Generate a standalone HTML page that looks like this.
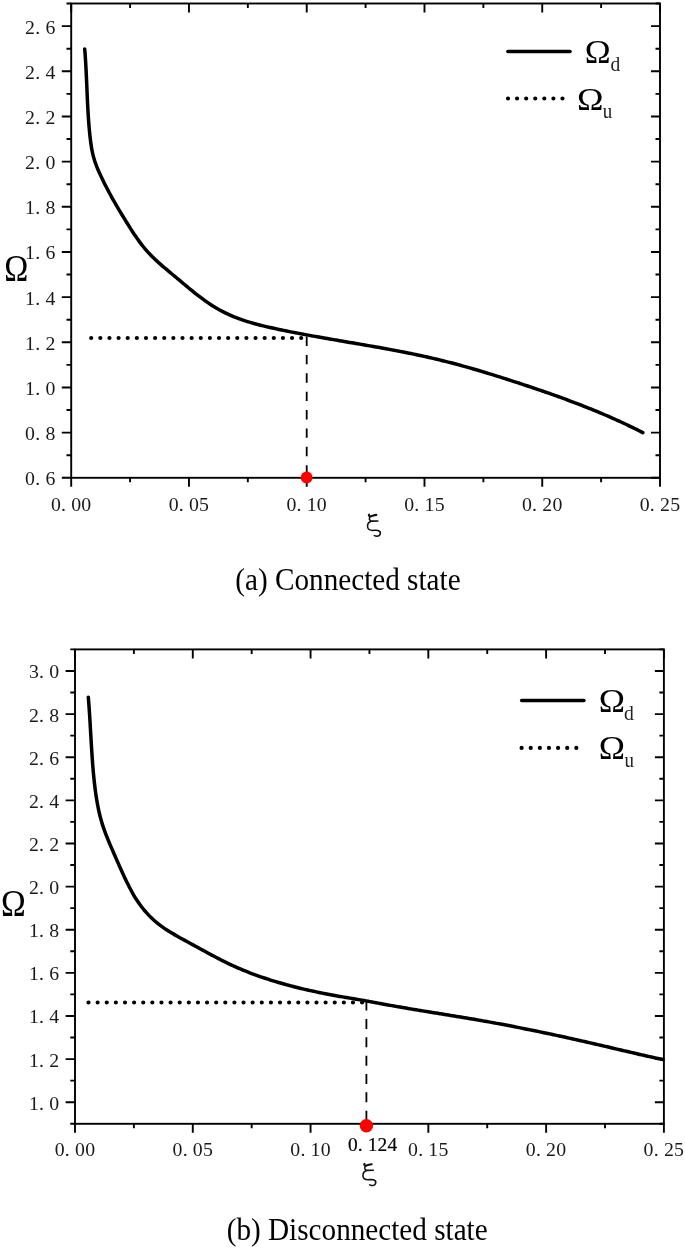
<!DOCTYPE html><html><head><meta charset="utf-8"><style>html,body{margin:0;padding:0;background:#fff;overflow:hidden;width:685px;height:1248px;}svg{display:block;will-change:transform;}text{font-family:"Liberation Serif", serif;fill:#1a1a1a;}</style></head><body>
<svg width="685" height="1248" viewBox="0 0 685 1248">
<rect x="71.20" y="3.50" width="588.80" height="474.30" fill="none" stroke="#000" stroke-width="1.90"/>
<path d="M61.80,477.77H71.20M651.00,477.77H660.00M61.80,432.61H71.20M651.00,432.61H660.00M61.80,387.44H71.20M651.00,387.44H660.00M61.80,342.28H71.20M651.00,342.28H660.00M61.80,297.11H71.20M651.00,297.11H660.00M61.80,251.95H71.20M651.00,251.95H660.00M61.80,206.79H71.20M651.00,206.79H660.00M61.80,161.62H71.20M651.00,161.62H660.00M61.80,116.46H71.20M651.00,116.46H660.00M61.80,71.29H71.20M651.00,71.29H660.00M61.80,26.13H71.20M651.00,26.13H660.00M66.50,455.19H71.20M655.50,455.19H660.00M66.50,410.02H71.20M655.50,410.02H660.00M66.50,364.86H71.20M655.50,364.86H660.00M66.50,319.70H71.20M655.50,319.70H660.00M66.50,274.53H71.20M655.50,274.53H660.00M66.50,229.37H71.20M655.50,229.37H660.00M66.50,184.20H71.20M655.50,184.20H660.00M66.50,139.04H71.20M655.50,139.04H660.00M66.50,93.88H71.20M655.50,93.88H660.00M66.50,48.71H71.20M655.50,48.71H660.00M66.50,3.55H71.20M655.50,3.55H660.00M71.20,477.80V486.80M71.20,3.50V12.50M188.96,477.80V486.80M188.96,3.50V12.50M306.72,477.80V486.80M306.72,3.50V12.50M424.48,477.80V486.80M424.48,3.50V12.50M542.24,477.80V486.80M542.24,3.50V12.50M660.00,477.80V486.80M660.00,3.50V12.50M130.08,477.80V482.30M130.08,3.50V8.00M247.84,477.80V482.30M247.84,3.50V8.00M365.60,477.80V482.30M365.60,3.50V8.00M483.36,477.80V482.30M483.36,3.50V8.00M601.12,477.80V482.30M601.12,3.50V8.00" stroke="#000" stroke-width="1.90" fill="none"/>
<text x="25.10 35.25 45.40" y="485.17" font-size="19.80" >0.6</text>
<text x="25.10 35.25 45.40" y="440.01" font-size="19.80" >0.8</text>
<text x="25.10 35.25 45.40" y="394.84" font-size="19.80" >1.0</text>
<text x="25.10 35.25 45.40" y="349.68" font-size="19.80" >1.2</text>
<text x="25.10 35.25 45.40" y="304.51" font-size="19.80" >1.4</text>
<text x="25.10 35.25 45.40" y="259.35" font-size="19.80" >1.6</text>
<text x="25.10 35.25 45.40" y="214.19" font-size="19.80" >1.8</text>
<text x="25.10 35.25 45.40" y="169.02" font-size="19.80" >2.0</text>
<text x="25.10 35.25 45.40" y="123.86" font-size="19.80" >2.2</text>
<text x="25.10 35.25 45.40" y="78.69" font-size="19.80" >2.4</text>
<text x="25.10 35.25 45.40" y="33.53" font-size="19.80" >2.6</text>
<text x="50.90 61.05 71.20 81.35" y="510.60" font-size="19.80" >0.00</text>
<text x="168.66 178.81 188.96 199.11" y="510.60" font-size="19.80" >0.05</text>
<text x="286.42 296.57 306.72 316.87" y="510.60" font-size="19.80" >0.10</text>
<text x="404.18 414.33 424.48 434.63" y="510.60" font-size="19.80" >0.15</text>
<text x="521.94 532.09 542.24 552.39" y="510.60" font-size="19.80" >0.20</text>
<text x="639.70 649.85 660.00 670.15" y="510.60" font-size="19.80" >0.25</text>
<path d="M84.70,48.90 C84.76,49.63 84.94,51.82 85.05,53.29 C85.16,54.75 85.26,56.23 85.36,57.70 C85.46,59.18 85.55,60.67 85.64,62.15 C85.73,63.64 85.82,65.14 85.90,66.63 C85.98,68.13 86.06,69.63 86.13,71.13 C86.21,72.63 86.28,74.14 86.35,75.65 C86.42,77.15 86.49,78.66 86.55,80.17 C86.62,81.68 86.69,83.20 86.75,84.71 C86.82,86.22 86.88,87.74 86.94,89.25 C87.01,90.76 87.07,92.28 87.14,93.79 C87.21,95.30 87.27,96.81 87.34,98.32 C87.41,99.83 87.48,101.34 87.55,102.84 C87.62,104.34 87.70,105.85 87.78,107.35 C87.86,108.84 87.94,110.34 88.03,111.83 C88.11,113.32 88.20,114.81 88.30,116.29 C88.39,117.77 88.49,119.25 88.60,120.72 C88.71,122.19 88.82,123.66 88.94,125.12 C89.05,126.58 89.18,128.03 89.31,129.48 C89.44,130.92 89.58,132.36 89.73,133.79 C89.88,135.22 90.03,136.64 90.20,138.06 C90.36,139.47 90.53,140.88 90.72,142.27 C90.91,143.66 91.10,145.04 91.32,146.40 C91.54,147.76 91.77,149.11 92.02,150.43 C92.28,151.75 92.55,153.05 92.85,154.33 C93.16,155.61 93.48,156.86 93.83,158.08 C94.18,159.31 94.56,160.51 94.96,161.69 C95.35,162.87 95.77,164.03 96.20,165.18 C96.63,166.33 97.09,167.45 97.55,168.57 C98.01,169.68 98.49,170.78 98.97,171.88 C99.45,172.97 99.95,174.05 100.45,175.13 C100.94,176.21 101.45,177.28 101.96,178.35 C102.47,179.42 102.99,180.48 103.51,181.54 C104.03,182.60 104.55,183.65 105.08,184.69 C105.61,185.74 106.15,186.78 106.69,187.82 C107.23,188.86 107.77,189.89 108.32,190.92 C108.87,191.95 109.42,192.98 109.98,194.00 C110.53,195.02 111.09,196.04 111.66,197.05 C112.22,198.07 112.79,199.08 113.36,200.08 C113.93,201.09 114.50,202.09 115.08,203.09 C115.66,204.10 116.24,205.09 116.82,206.09 C117.40,207.08 117.99,208.08 118.57,209.07 C119.16,210.06 119.75,211.04 120.34,212.03 C120.93,213.02 121.53,214.00 122.12,214.98 C122.72,215.96 123.32,216.94 123.92,217.92 C124.51,218.90 125.12,219.88 125.72,220.85 C126.32,221.83 126.92,222.80 127.53,223.78 C128.13,224.75 128.74,225.72 129.35,226.69 C129.96,227.66 130.57,228.62 131.18,229.58 C131.80,230.55 132.42,231.50 133.04,232.46 C133.67,233.41 134.30,234.36 134.94,235.30 C135.57,236.24 136.21,237.17 136.86,238.10 C137.51,239.03 138.17,239.95 138.83,240.86 C139.50,241.78 140.17,242.68 140.85,243.58 C141.54,244.47 142.23,245.36 142.93,246.23 C143.63,247.11 144.34,247.97 145.07,248.83 C145.79,249.68 146.53,250.52 147.28,251.35 C148.02,252.18 148.78,253.00 149.55,253.81 C150.32,254.62 151.10,255.42 151.88,256.21 C152.67,257.00 153.47,257.78 154.27,258.56 C155.08,259.33 155.89,260.09 156.71,260.85 C157.53,261.61 158.35,262.36 159.18,263.11 C160.02,263.85 160.85,264.59 161.70,265.33 C162.54,266.07 163.38,266.80 164.23,267.52 C165.08,268.25 165.94,268.97 166.80,269.70 C167.65,270.42 168.51,271.13 169.37,271.85 C170.23,272.57 171.09,273.29 171.95,274.00 C172.82,274.72 173.68,275.43 174.54,276.15 C175.40,276.86 176.26,277.58 177.12,278.30 C177.98,279.02 178.84,279.74 179.70,280.46 C180.55,281.18 181.41,281.90 182.27,282.62 C183.12,283.34 183.98,284.06 184.84,284.78 C185.70,285.50 186.56,286.21 187.42,286.93 C188.28,287.64 189.15,288.36 190.01,289.07 C190.88,289.78 191.75,290.49 192.62,291.19 C193.50,291.90 194.37,292.60 195.25,293.30 C196.13,293.99 197.02,294.69 197.91,295.37 C198.80,296.06 199.69,296.74 200.60,297.42 C201.50,298.10 202.40,298.77 203.32,299.43 C204.23,300.10 205.15,300.75 206.08,301.40 C207.00,302.05 207.94,302.70 208.88,303.33 C209.83,303.97 210.78,304.59 211.74,305.21 C212.70,305.83 213.67,306.44 214.64,307.03 C215.62,307.63 216.61,308.22 217.61,308.80 C218.61,309.38 219.62,309.95 220.64,310.50 C221.66,311.06 222.69,311.61 223.74,312.14 C224.78,312.67 225.84,313.19 226.91,313.70 C227.98,314.21 229.06,314.70 230.16,315.19 C231.25,315.67 232.36,316.14 233.48,316.60 C234.60,317.05 235.73,317.50 236.87,317.93 C238.02,318.37 239.17,318.79 240.34,319.20 C241.50,319.61 242.68,320.02 243.86,320.41 C245.05,320.80 246.24,321.18 247.45,321.56 C248.65,321.93 249.87,322.29 251.09,322.65 C252.31,323.01 253.54,323.35 254.77,323.70 C256.01,324.04 257.26,324.37 258.51,324.70 C259.76,325.02 261.02,325.34 262.28,325.65 C263.55,325.97 264.82,326.28 266.09,326.58 C267.37,326.88 268.65,327.18 269.93,327.47 C271.22,327.76 272.51,328.05 273.80,328.33 C275.09,328.62 276.39,328.90 277.69,329.18 C278.99,329.45 280.29,329.73 281.60,330.00 C282.91,330.27 284.21,330.54 285.52,330.81 C286.84,331.07 288.15,331.34 289.46,331.60 C290.78,331.86 292.10,332.12 293.42,332.38 C294.74,332.64 296.06,332.89 297.38,333.15 C298.71,333.40 300.03,333.65 301.36,333.90 C302.69,334.15 304.02,334.40 305.35,334.65 C306.68,334.89 308.01,335.14 309.35,335.38 C310.68,335.62 312.02,335.87 313.35,336.11 C314.69,336.35 316.03,336.59 317.37,336.82 C318.71,337.06 320.05,337.30 321.39,337.54 C322.73,337.77 324.07,338.01 325.42,338.24 C326.76,338.47 328.11,338.71 329.45,338.94 C330.80,339.17 332.14,339.40 333.49,339.64 C334.83,339.87 336.18,340.10 337.53,340.33 C338.88,340.56 340.22,340.79 341.57,341.02 C342.92,341.25 344.27,341.48 345.61,341.71 C346.96,341.94 348.31,342.17 349.66,342.40 C351.00,342.63 352.35,342.86 353.70,343.09 C355.05,343.32 356.39,343.55 357.74,343.78 C359.09,344.01 360.43,344.24 361.78,344.47 C363.12,344.71 364.47,344.94 365.81,345.17 C367.16,345.40 368.50,345.64 369.84,345.87 C371.19,346.11 372.53,346.34 373.87,346.58 C375.21,346.82 376.55,347.06 377.89,347.30 C379.23,347.53 380.56,347.77 381.90,348.02 C383.24,348.26 384.57,348.50 385.90,348.74 C387.24,348.99 388.57,349.23 389.90,349.48 C391.23,349.73 392.56,349.98 393.89,350.23 C395.21,350.48 396.54,350.73 397.86,350.98 C399.19,351.24 400.51,351.49 401.83,351.75 C403.15,352.01 404.47,352.27 405.78,352.53 C407.10,352.79 408.41,353.05 409.72,353.32 C411.03,353.59 412.34,353.86 413.65,354.13 C414.96,354.40 416.26,354.67 417.57,354.94 C418.87,355.22 420.17,355.50 421.46,355.78 C422.76,356.06 424.06,356.34 425.35,356.63 C426.64,356.91 427.93,357.20 429.21,357.49 C430.50,357.78 431.78,358.08 433.06,358.38 C434.34,358.67 435.62,358.97 436.90,359.28 C438.17,359.58 439.44,359.89 440.71,360.20 C441.98,360.51 443.24,360.82 444.50,361.14 C445.76,361.45 447.02,361.77 448.28,362.09 C449.54,362.41 450.79,362.74 452.04,363.06 C453.29,363.39 454.54,363.72 455.78,364.05 C457.03,364.39 458.27,364.72 459.51,365.06 C460.75,365.40 461.99,365.74 463.22,366.08 C464.46,366.42 465.69,366.76 466.92,367.11 C468.15,367.46 469.38,367.81 470.61,368.16 C471.83,368.51 473.06,368.86 474.28,369.22 C475.50,369.58 476.72,369.93 477.94,370.29 C479.16,370.65 480.37,371.01 481.59,371.38 C482.80,371.74 484.02,372.10 485.23,372.47 C486.44,372.84 487.65,373.21 488.85,373.58 C490.06,373.95 491.27,374.32 492.47,374.69 C493.68,375.06 494.88,375.44 496.08,375.81 C497.28,376.19 498.48,376.57 499.68,376.95 C500.88,377.32 502.08,377.70 503.28,378.09 C504.47,378.47 505.67,378.85 506.86,379.23 C508.06,379.61 509.25,380.00 510.44,380.38 C511.64,380.77 512.83,381.15 514.02,381.54 C515.21,381.93 516.40,382.32 517.59,382.70 C518.78,383.09 519.96,383.48 521.15,383.87 C522.34,384.26 523.52,384.65 524.71,385.05 C525.89,385.44 527.08,385.83 528.26,386.23 C529.44,386.62 530.63,387.02 531.81,387.42 C532.99,387.81 534.17,388.21 535.34,388.61 C536.52,389.01 537.70,389.41 538.88,389.81 C540.05,390.21 541.23,390.62 542.40,391.02 C543.57,391.43 544.74,391.83 545.91,392.24 C547.08,392.65 548.25,393.05 549.42,393.47 C550.59,393.88 551.75,394.29 552.92,394.70 C554.08,395.11 555.25,395.53 556.41,395.94 C557.57,396.36 558.73,396.78 559.89,397.20 C561.04,397.62 562.20,398.04 563.36,398.46 C564.51,398.88 565.66,399.31 566.82,399.73 C567.97,400.16 569.12,400.59 570.26,401.02 C571.41,401.45 572.56,401.88 573.70,402.31 C574.85,402.74 575.99,403.18 577.13,403.62 C578.27,404.05 579.41,404.49 580.55,404.93 C581.68,405.38 582.82,405.82 583.95,406.26 C585.08,406.71 586.21,407.16 587.34,407.60 C588.47,408.05 589.59,408.51 590.72,408.96 C591.84,409.41 592.96,409.87 594.08,410.33 C595.20,410.78 596.32,411.24 597.44,411.71 C598.55,412.17 599.67,412.63 600.78,413.10 C601.89,413.57 603.00,414.04 604.10,414.51 C605.21,414.98 606.31,415.45 607.41,415.93 C608.51,416.41 609.61,416.88 610.71,417.37 C611.80,417.85 612.90,418.33 613.99,418.82 C615.08,419.30 616.17,419.79 617.25,420.28 C618.34,420.78 619.42,421.27 620.50,421.77 C621.59,422.26 622.66,422.76 623.74,423.27 C624.81,423.77 625.89,424.27 626.96,424.78 C628.03,425.29 629.09,425.80 630.16,426.31 C631.22,426.83 632.28,427.34 633.34,427.86 C634.40,428.38 635.45,428.90 636.51,429.43 C637.56,429.95 638.61,430.48 639.66,431.01 C640.70,431.54 642.28,432.34 642.80,432.60" fill="none" stroke="#000" stroke-width="3.5" stroke-linecap="round" stroke-linejoin="round"/>
<path d="M91.2,338H302" fill="none" stroke="#000" stroke-width="4.2" stroke-linecap="round" stroke-dasharray="0 9.13"/>
<path d="M306.7,336.6V472" fill="none" stroke="#000" stroke-width="1.8" stroke-dasharray="9.4 8.97"/>
<circle cx="306.65" cy="477.5" r="5.9" fill="#f00"/>
<path d="M507.85,51.5H570.05" stroke="#000" stroke-width="3.5" stroke-linecap="round"/>
<path d="M508,98.5H563" stroke="#000" stroke-width="4.2" stroke-linecap="round" stroke-dasharray="0 9.08"/>
<rect x="75.00" y="649.40" width="588.90" height="474.40" fill="none" stroke="#000" stroke-width="1.90"/>
<path d="M65.60,1102.24H75.00M654.90,1102.24H663.90M65.60,1059.11H75.00M654.90,1059.11H663.90M65.60,1015.98H75.00M654.90,1015.98H663.90M65.60,972.85H75.00M654.90,972.85H663.90M65.60,929.72H75.00M654.90,929.72H663.90M65.60,886.60H75.00M654.90,886.60H663.90M65.60,843.47H75.00M654.90,843.47H663.90M65.60,800.34H75.00M654.90,800.34H663.90M65.60,757.21H75.00M654.90,757.21H663.90M65.60,714.08H75.00M654.90,714.08H663.90M65.60,670.96H75.00M654.90,670.96H663.90M70.30,1123.80H75.00M659.40,1123.80H663.90M70.30,1080.67H75.00M659.40,1080.67H663.90M70.30,1037.54H75.00M659.40,1037.54H663.90M70.30,994.42H75.00M659.40,994.42H663.90M70.30,951.29H75.00M659.40,951.29H663.90M70.30,908.16H75.00M659.40,908.16H663.90M70.30,865.03H75.00M659.40,865.03H663.90M70.30,821.90H75.00M659.40,821.90H663.90M70.30,778.78H75.00M659.40,778.78H663.90M70.30,735.65H75.00M659.40,735.65H663.90M70.30,692.52H75.00M659.40,692.52H663.90M70.30,649.39H75.00M659.40,649.39H663.90M75.00,1123.80V1132.80M75.00,649.40V658.40M192.78,1123.80V1132.80M192.78,649.40V658.40M310.56,1123.80V1132.80M310.56,649.40V658.40M428.34,1123.80V1132.80M428.34,649.40V658.40M546.12,1123.80V1132.80M546.12,649.40V658.40M663.90,1123.80V1132.80M663.90,649.40V658.40M133.89,1123.80V1128.30M133.89,649.40V653.90M251.67,1123.80V1128.30M251.67,649.40V653.90M369.45,1123.80V1128.30M369.45,649.40V653.90M487.23,1123.80V1128.30M487.23,649.40V653.90M605.01,1123.80V1128.30M605.01,649.40V653.90" stroke="#000" stroke-width="1.90" fill="none"/>
<text x="28.90 39.05 49.20" y="1109.74" font-size="19.80" >1.0</text>
<text x="28.90 39.05 49.20" y="1066.61" font-size="19.80" >1.2</text>
<text x="28.90 39.05 49.20" y="1023.48" font-size="19.80" >1.4</text>
<text x="28.90 39.05 49.20" y="980.35" font-size="19.80" >1.6</text>
<text x="28.90 39.05 49.20" y="937.22" font-size="19.80" >1.8</text>
<text x="28.90 39.05 49.20" y="894.10" font-size="19.80" >2.0</text>
<text x="28.90 39.05 49.20" y="850.97" font-size="19.80" >2.2</text>
<text x="28.90 39.05 49.20" y="807.84" font-size="19.80" >2.4</text>
<text x="28.90 39.05 49.20" y="764.71" font-size="19.80" >2.6</text>
<text x="28.90 39.05 49.20" y="721.58" font-size="19.80" >2.8</text>
<text x="28.90 39.05 49.20" y="678.46" font-size="19.80" >3.0</text>
<text x="54.70 64.85 75.00 85.15" y="1156.30" font-size="19.80" >0.00</text>
<text x="172.48 182.63 192.78 202.93" y="1156.30" font-size="19.80" >0.05</text>
<text x="290.26 300.41 310.56 320.71" y="1156.30" font-size="19.80" >0.10</text>
<text x="408.04 418.19 428.34 438.49" y="1156.30" font-size="19.80" >0.15</text>
<text x="525.82 535.97 546.12 556.27" y="1156.30" font-size="19.80" >0.20</text>
<text x="643.60 653.75 663.90 674.05" y="1156.30" font-size="19.80" >0.25</text>
<path d="M88.30,697.20 C88.36,697.93 88.54,700.10 88.65,701.55 C88.77,703.01 88.88,704.47 88.98,705.93 C89.09,707.40 89.19,708.86 89.29,710.33 C89.39,711.80 89.49,713.27 89.59,714.75 C89.68,716.22 89.77,717.70 89.87,719.18 C89.96,720.66 90.04,722.14 90.13,723.62 C90.22,725.10 90.31,726.58 90.39,728.07 C90.48,729.55 90.56,731.03 90.65,732.52 C90.74,734.00 90.82,735.49 90.91,736.97 C90.99,738.45 91.08,739.94 91.17,741.42 C91.25,742.90 91.34,744.38 91.43,745.86 C91.52,747.34 91.61,748.82 91.71,750.30 C91.80,751.77 91.90,753.25 91.99,754.72 C92.09,756.19 92.19,757.66 92.30,759.12 C92.40,760.59 92.51,762.05 92.62,763.50 C92.74,764.96 92.85,766.42 92.97,767.87 C93.09,769.32 93.22,770.76 93.34,772.20 C93.47,773.64 93.61,775.08 93.75,776.51 C93.89,777.93 94.03,779.36 94.19,780.78 C94.34,782.19 94.49,783.61 94.66,785.01 C94.82,786.42 94.99,787.82 95.17,789.21 C95.35,790.60 95.54,791.98 95.73,793.36 C95.92,794.73 96.13,796.10 96.34,797.46 C96.55,798.82 96.77,800.17 97.00,801.51 C97.23,802.85 97.47,804.18 97.72,805.50 C97.97,806.81 98.23,808.12 98.50,809.42 C98.78,810.71 99.06,812.00 99.36,813.27 C99.66,814.54 99.97,815.80 100.29,817.05 C100.62,818.29 100.95,819.52 101.31,820.74 C101.66,821.96 102.02,823.16 102.40,824.36 C102.78,825.55 103.16,826.73 103.56,827.90 C103.96,829.07 104.37,830.23 104.79,831.38 C105.21,832.53 105.64,833.67 106.07,834.81 C106.51,835.94 106.95,837.07 107.40,838.19 C107.85,839.31 108.31,840.42 108.77,841.53 C109.23,842.64 109.69,843.74 110.16,844.84 C110.63,845.94 111.11,847.04 111.58,848.13 C112.06,849.23 112.54,850.32 113.01,851.41 C113.49,852.50 113.97,853.59 114.45,854.68 C114.93,855.77 115.41,856.86 115.89,857.96 C116.37,859.05 116.84,860.14 117.32,861.23 C117.80,862.32 118.28,863.41 118.76,864.50 C119.24,865.59 119.72,866.67 120.21,867.76 C120.69,868.85 121.18,869.93 121.67,871.01 C122.15,872.09 122.64,873.17 123.14,874.24 C123.63,875.32 124.13,876.39 124.63,877.46 C125.14,878.53 125.64,879.59 126.15,880.65 C126.66,881.71 127.18,882.76 127.70,883.81 C128.22,884.86 128.74,885.91 129.27,886.94 C129.81,887.98 130.34,889.01 130.89,890.04 C131.44,891.06 131.99,892.07 132.56,893.08 C133.12,894.08 133.70,895.08 134.28,896.06 C134.87,897.04 135.47,898.01 136.08,898.97 C136.69,899.93 137.32,900.88 137.95,901.81 C138.59,902.74 139.24,903.66 139.90,904.57 C140.56,905.48 141.23,906.38 141.92,907.26 C142.61,908.14 143.31,909.01 144.02,909.87 C144.73,910.73 145.46,911.57 146.19,912.40 C146.93,913.23 147.68,914.05 148.45,914.85 C149.22,915.66 149.99,916.45 150.79,917.23 C151.58,918.00 152.38,918.77 153.20,919.52 C154.02,920.27 154.86,921.00 155.70,921.73 C156.55,922.45 157.41,923.16 158.29,923.85 C159.16,924.55 160.05,925.23 160.95,925.89 C161.85,926.56 162.77,927.22 163.70,927.86 C164.62,928.50 165.56,929.13 166.51,929.75 C167.46,930.37 168.42,930.98 169.38,931.59 C170.35,932.19 171.33,932.78 172.31,933.37 C173.29,933.96 174.28,934.54 175.28,935.11 C176.27,935.68 177.28,936.25 178.28,936.82 C179.29,937.38 180.30,937.94 181.31,938.50 C182.32,939.05 183.34,939.60 184.36,940.16 C185.37,940.71 186.39,941.26 187.41,941.81 C188.43,942.36 189.45,942.91 190.47,943.47 C191.48,944.02 192.50,944.57 193.51,945.13 C194.53,945.68 195.54,946.24 196.56,946.79 C197.57,947.35 198.59,947.90 199.60,948.46 C200.61,949.01 201.63,949.57 202.64,950.13 C203.66,950.68 204.67,951.23 205.69,951.79 C206.70,952.34 207.72,952.89 208.74,953.44 C209.76,953.99 210.78,954.54 211.80,955.09 C212.83,955.64 213.85,956.18 214.88,956.72 C215.91,957.26 216.94,957.80 217.97,958.34 C219.00,958.87 220.04,959.41 221.08,959.94 C222.12,960.46 223.17,960.99 224.22,961.51 C225.26,962.03 226.32,962.55 227.37,963.06 C228.43,963.57 229.49,964.08 230.56,964.58 C231.63,965.09 232.70,965.58 233.78,966.08 C234.85,966.57 235.94,967.05 237.03,967.53 C238.12,968.01 239.21,968.49 240.31,968.96 C241.41,969.43 242.52,969.89 243.63,970.35 C244.74,970.80 245.86,971.26 246.98,971.70 C248.11,972.15 249.24,972.59 250.37,973.03 C251.50,973.46 252.64,973.89 253.79,974.32 C254.93,974.74 256.08,975.16 257.24,975.58 C258.39,975.99 259.55,976.40 260.72,976.80 C261.88,977.21 263.05,977.61 264.23,978.00 C265.40,978.40 266.58,978.79 267.77,979.17 C268.95,979.56 270.14,979.93 271.34,980.31 C272.53,980.68 273.73,981.05 274.94,981.42 C276.14,981.78 277.35,982.14 278.56,982.50 C279.78,982.86 280.99,983.21 282.22,983.55 C283.44,983.90 284.67,984.24 285.90,984.58 C287.13,984.92 288.37,985.25 289.61,985.58 C290.85,985.91 292.09,986.24 293.34,986.56 C294.59,986.88 295.84,987.19 297.10,987.51 C298.36,987.82 299.62,988.13 300.88,988.43 C302.15,988.73 303.42,989.03 304.69,989.33 C305.97,989.63 307.24,989.92 308.52,990.21 C309.81,990.49 311.09,990.78 312.38,991.06 C313.67,991.34 314.96,991.62 316.26,991.89 C317.55,992.16 318.85,992.43 320.16,992.70 C321.46,992.96 322.77,993.23 324.08,993.49 C325.39,993.74 326.70,994.00 328.02,994.25 C329.34,994.50 330.66,994.75 331.98,995.00 C333.31,995.24 334.64,995.49 335.97,995.72 C337.30,995.96 338.63,996.20 339.97,996.43 C341.30,996.66 342.65,996.89 343.99,997.12 C345.33,997.35 346.67,997.57 348.02,997.80 C349.36,998.03 350.71,998.25 352.05,998.47 C353.39,998.70 354.74,998.93 356.08,999.15 C357.42,999.38 358.76,999.61 360.10,999.85 C361.43,1000.08 362.76,1000.32 364.10,1000.56 C365.43,1000.79 366.75,1001.04 368.08,1001.28 C369.41,1001.52 370.73,1001.76 372.06,1002.01 C373.38,1002.25 374.71,1002.50 376.03,1002.74 C377.36,1002.99 378.68,1003.23 380.01,1003.48 C381.33,1003.72 382.66,1003.96 383.99,1004.20 C385.32,1004.45 386.65,1004.69 387.98,1004.93 C389.31,1005.16 390.64,1005.40 391.97,1005.64 C393.30,1005.88 394.64,1006.11 395.97,1006.35 C397.31,1006.58 398.64,1006.81 399.98,1007.05 C401.32,1007.28 402.66,1007.51 404.00,1007.74 C405.34,1007.97 406.68,1008.20 408.02,1008.43 C409.36,1008.65 410.70,1008.88 412.05,1009.11 C413.39,1009.33 414.74,1009.56 416.08,1009.78 C417.43,1010.00 418.77,1010.23 420.12,1010.45 C421.47,1010.67 422.82,1010.89 424.16,1011.11 C425.51,1011.34 426.86,1011.56 428.21,1011.78 C429.56,1012.00 430.91,1012.22 432.26,1012.44 C433.61,1012.66 434.96,1012.88 436.31,1013.10 C437.66,1013.31 439.01,1013.53 440.36,1013.75 C441.71,1013.97 443.06,1014.19 444.41,1014.41 C445.76,1014.63 447.11,1014.85 448.46,1015.07 C449.81,1015.29 451.16,1015.51 452.51,1015.73 C453.86,1015.95 455.20,1016.17 456.55,1016.40 C457.90,1016.62 459.25,1016.84 460.59,1017.06 C461.94,1017.29 463.29,1017.51 464.63,1017.73 C465.98,1017.96 467.32,1018.18 468.66,1018.41 C470.01,1018.64 471.35,1018.86 472.69,1019.09 C474.03,1019.32 475.37,1019.55 476.71,1019.78 C478.05,1020.01 479.38,1020.25 480.72,1020.48 C482.05,1020.71 483.39,1020.95 484.72,1021.19 C486.05,1021.42 487.39,1021.66 488.72,1021.90 C490.05,1022.14 491.38,1022.38 492.70,1022.62 C494.03,1022.86 495.36,1023.11 496.68,1023.35 C498.01,1023.59 499.33,1023.84 500.65,1024.09 C501.98,1024.33 503.30,1024.58 504.62,1024.83 C505.94,1025.08 507.26,1025.33 508.57,1025.58 C509.89,1025.84 511.21,1026.09 512.52,1026.34 C513.84,1026.60 515.15,1026.85 516.46,1027.11 C517.78,1027.37 519.09,1027.63 520.40,1027.89 C521.71,1028.14 523.02,1028.40 524.33,1028.67 C525.63,1028.93 526.94,1029.19 528.25,1029.45 C529.55,1029.72 530.86,1029.98 532.16,1030.25 C533.47,1030.51 534.77,1030.78 536.07,1031.05 C537.37,1031.32 538.67,1031.59 539.97,1031.86 C541.27,1032.13 542.57,1032.40 543.87,1032.67 C545.16,1032.94 546.46,1033.21 547.76,1033.49 C549.05,1033.76 550.35,1034.04 551.64,1034.31 C552.93,1034.59 554.23,1034.87 555.52,1035.14 C556.81,1035.42 558.10,1035.70 559.39,1035.98 C560.68,1036.26 561.97,1036.54 563.26,1036.82 C564.54,1037.10 565.83,1037.39 567.12,1037.67 C568.40,1037.95 569.69,1038.24 570.97,1038.52 C572.26,1038.81 573.54,1039.09 574.83,1039.38 C576.11,1039.66 577.39,1039.95 578.67,1040.24 C579.95,1040.53 581.23,1040.82 582.51,1041.11 C583.79,1041.40 585.07,1041.69 586.35,1041.98 C587.63,1042.27 588.91,1042.56 590.18,1042.85 C591.46,1043.15 592.74,1043.44 594.01,1043.73 C595.29,1044.03 596.56,1044.32 597.84,1044.62 C599.11,1044.91 600.38,1045.21 601.66,1045.51 C602.93,1045.80 604.20,1046.10 605.47,1046.40 C606.74,1046.70 608.02,1047.00 609.29,1047.29 C610.56,1047.59 611.83,1047.89 613.10,1048.19 C614.37,1048.49 615.64,1048.79 616.91,1049.09 C618.18,1049.39 619.45,1049.69 620.72,1049.99 C621.99,1050.29 623.26,1050.59 624.53,1050.89 C625.80,1051.19 627.07,1051.48 628.34,1051.78 C629.61,1052.08 630.88,1052.38 632.16,1052.67 C633.43,1052.97 634.71,1053.27 635.98,1053.56 C637.26,1053.85 638.53,1054.15 639.81,1054.44 C641.09,1054.73 642.36,1055.02 643.64,1055.31 C644.92,1055.60 646.21,1055.89 647.49,1056.18 C648.77,1056.46 650.06,1056.75 651.34,1057.03 C652.63,1057.32 653.92,1057.60 655.21,1057.88 C656.50,1058.16 657.78,1058.44 659.08,1058.71 C660.38,1058.98 662.35,1059.37 663.00,1059.50" fill="none" stroke="#000" stroke-width="3.5" stroke-linecap="round" stroke-linejoin="round"/>
<path d="M88.5,1002.5H363" fill="none" stroke="#000" stroke-width="4.2" stroke-linecap="round" stroke-dasharray="0 9.12"/>
<path d="M366.4,1000.6V1120" fill="none" stroke="#000" stroke-width="1.8" stroke-dasharray="10 8.35"/>
<circle cx="366.4" cy="1125.8" r="6.7" fill="#f00"/>
<path d="M521.65,700.5H583.95" stroke="#000" stroke-width="3.5" stroke-linecap="round"/>
<path d="M521.6,747.9H577" stroke="#000" stroke-width="4.2" stroke-linecap="round" stroke-dasharray="0 9.12"/>
<text font-size="100" transform="matrix(0.34863 0 0 0.32774 584.796 62.600)" style="fill:#000" >Ω</text>
<text font-size="100" transform="matrix(0.19484 0 0 0.19897 610.396 70.506)" style="fill:#222" >d</text>
<text font-size="100" transform="matrix(0.35645 0 0 0.31717 577.055 109.700)" style="fill:#000" >Ω</text>
<text font-size="100" transform="matrix(0.18947 0 0 0.21120 602.850 117.594)" style="fill:#222" >u</text>
<text font-size="100" transform="matrix(0.32362 0 0 0.38060 4.325 280.600)" style="fill:#000" >Ω</text>
<g transform="translate(0.00 0.00)"><path d="M369.3,514.3 C368.2,514.5 368.2,516.2 369.9,516.3 M370.6,516.6 C369.2,517.5 368.8,519.5 370.2,520.4 C370.8,520.9 371.5,521.1 372,521.1 L377.9,521.0 M371.5,521.3 C368.5,522 367.3,524.5 367.6,527 C368,529.5 370,530.4 372.5,530.4 C374.5,530.4 376.5,530.1 378,530.5 C380,531.1 380.6,532.5 380.3,533.8 C379.8,535.6 377.6,536.4 375.8,536.1 C375,536 374.5,535.7 374.3,535.5" fill="none" stroke="#111" stroke-width="1.55" stroke-linecap="round"/><path d="M369.9,516.3 C371.5,516.1 373.5,515.4 376.3,514.9" fill="none" stroke="#111" stroke-width="2.1" stroke-linecap="round"/></g>
<text font-size="100" transform="matrix(0.35332 0 0 0.32774 598.771 711.900)" style="fill:#000" >Ω</text>
<text font-size="100" transform="matrix(0.19705 0 0 0.20466 624.088 719.900)" style="fill:#222" >d</text>
<text font-size="100" transform="matrix(0.35332 0 0 0.32774 598.771 759.100)" style="fill:#000" >Ω</text>
<text font-size="100" transform="matrix(0.18947 0 0 0.21547 624.450 766.890)" style="fill:#222" >u</text>
<text font-size="100" transform="matrix(0.33300 0 0 0.37607 1.076 915.600)" style="fill:#000" >Ω</text>
<g transform="translate(-4.60 649.30)"><path d="M369.3,514.3 C368.2,514.5 368.2,516.2 369.9,516.3 M370.6,516.6 C369.2,517.5 368.8,519.5 370.2,520.4 C370.8,520.9 371.5,521.1 372,521.1 L377.9,521.0 M371.5,521.3 C368.5,522 367.3,524.5 367.6,527 C368,529.5 370,530.4 372.5,530.4 C374.5,530.4 376.5,530.1 378,530.5 C380,531.1 380.6,532.5 380.3,533.8 C379.8,535.6 377.6,536.4 375.8,536.1 C375,536 374.5,535.7 374.3,535.5" fill="none" stroke="#111" stroke-width="1.55" stroke-linecap="round"/><path d="M369.9,516.3 C371.5,516.1 373.5,515.4 376.3,514.9" fill="none" stroke="#111" stroke-width="2.1" stroke-linecap="round"/></g>
<text x="347.90 357.80 367.70 377.60 387.50" y="1150.50" font-size="19.40" style="fill:#000;stroke:#000;stroke-width:0.2">0.124</text>
<text x="0" y="0" font-size="29.2" transform="matrix(1 0 0 1.06 235.3 590.2)" style="fill:#000">(a) Connected state</text>
<text x="0" y="0" font-size="29.2" transform="matrix(1 0 0 1.06 226.7 1239.5)" style="fill:#000">(b) Disconnected state</text>
</svg></body></html>
